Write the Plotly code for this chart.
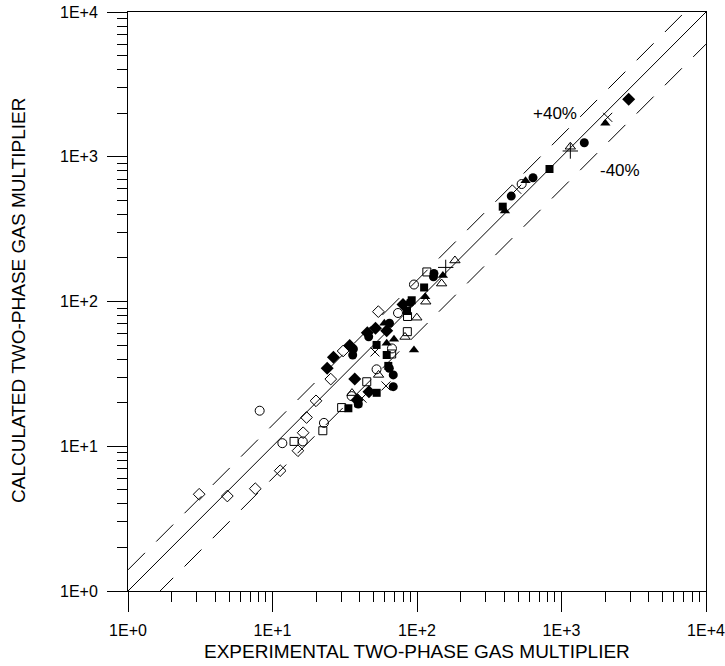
import plotly.graph_objects as go

# ---- data (experimental, calculated) ----
open_diamond_x = [3.11, 4.87, 7.60, 11.3, 15.0, 16.3, 17.2, 20.0, 25.3, 30.8, 54.0]
open_diamond_y = [4.66, 4.53, 5.09, 6.78, 9.31, 12.4, 15.8, 20.6, 29.1, 45.5, 85.1]

filled_diamond_x = [23.9, 26.4, 34.2, 37.1, 46.5, 51.6, 45.3, 61.7, 80.0, 38.5, 2917]
filled_diamond_y = [34.6, 41.2, 49.7, 29.1, 23.8, 65.3, 60.9, 62.9, 95.3, 20.9, 2494]

filled_circle_x = [35.9, 36.3, 46.3, 64.5, 89.9, 131, 130, 68.5, 68.5, 64.3, 39.2, 449, 635, 1438]
filled_circle_y = [42.7, 47.0, 57.1, 70.7, 98.4, 156, 148, 31.1, 25.8, 34.6, 19.6, 535, 716, 1250]

open_circle_x = [8.15, 11.7, 16.2, 22.7, 35.3, 52.5, 67.1, 73.9, 95.3, 530]
open_circle_y = [17.6, 10.5, 10.8, 14.5, 22.2, 34.0, 47.4, 83.3, 131, 648]

filled_square_x = [52.5, 61.7, 63.3, 52.6, 33.5, 39.2, 85.3, 112, 91.9, 392, 826]
filled_square_y = [50.1, 42.7, 35.9, 23.4, 18.3, 19.8, 86.0, 125, 102, 452, 823]

open_square_x = [14.1, 22.3, 30.1, 44.9, 66.8, 85.7, 86.0, 117]
open_square_y = [10.8, 12.8, 18.5, 27.9, 43.4, 61.9, 78.8, 160]

filled_triangle_x = [59.4, 61.7, 69.3, 95.3, 151, 114, 406, 564, 2010]
filled_triangle_y = [70.7, 51.4, 54.8, 46.2, 151, 108, 422, 683, 1702]

open_triangle_x = [35.5, 54.2, 82.6, 99.7, 115, 148, 183, 1151]
open_triangle_y = [23.3, 31.1, 56.9, 77.3, 99.7, 133, 192, 1173]

x_mark_x = [51.2, 61.0, 41.6, 490, 2089]
x_mark_y = [44.8, 26.1, 21.5, 596, 1872]

plus_x = [158, 1151]
plus_y = [172, 1096]

# reference lines
line_x = [1, 10000]
upper_factor = 1.4
lower_factor = 0.6

major_ticks = [1, 10, 100, 1000, 10000]
major_text = ["1E+0", "1E+1", "1E+2", "1E+3", "1E+4"]
minor_ticks = [m * d for d in [1, 10, 100, 1000] for m in range(2, 10)]

FONT = "Liberation Sans, Arial, sans-serif"

fig = go.Figure()

# reference lines
fig.add_trace(go.Scatter(x=line_x, y=line_x, mode="lines",
                         line=dict(color="black", width=1), hoverinfo="skip"))
fig.add_trace(go.Scatter(x=line_x, y=[v * upper_factor for v in line_x], mode="lines",
                         line=dict(color="black", width=1, dash="24px,16px"), hoverinfo="skip"))
fig.add_trace(go.Scatter(x=line_x, y=[v * lower_factor for v in line_x], mode="lines",
                         line=dict(color="black", width=1, dash="24px,16px"), hoverinfo="skip"))

def pts(x, y, symbol, size, filled):
    if filled:
        marker = dict(symbol=symbol, size=size, color="black", line=dict(width=0))
    else:
        marker = dict(symbol=symbol, size=size, color="black", line=dict(width=1, color="black"))
    fig.add_trace(go.Scatter(x=x, y=y, mode="markers", marker=marker, cliponaxis=False))

pts(open_diamond_x, open_diamond_y, "diamond-open", 9, False)
pts(filled_diamond_x, filled_diamond_y, "diamond", 10, True)
pts(filled_circle_x, filled_circle_y, "circle", 9, True)
pts(open_circle_x, open_circle_y, "circle-open", 9, False)
pts(filled_square_x, filled_square_y, "square", 8, True)
pts(open_square_x, open_square_y, "square-open", 8, False)
pts(filled_triangle_x, filled_triangle_y, "triangle-up", 9, True)
pts(open_triangle_x, open_triangle_y, "triangle-up-open", 9, False)
pts(x_mark_x, x_mark_y, "x-thin-open", 9, False)
pts(plus_x, plus_y, "cross-thin-open", 11, False)

axis_common = dict(
    type="log", range=[0, 4], showgrid=False, zeroline=False, automargin=False,
    showline=True, linecolor="black", linewidth=1, mirror=True,
    tickvals=major_ticks, ticktext=major_text, ticklabeloverflow="allow",
    ticks="outside", ticklen=20, tickwidth=1, tickcolor="black",
    tickfont=dict(family=FONT, size=16, color="black"),
    minor=dict(tickvals=minor_ticks, ticks="outside", ticklen=10,
               tickwidth=1, tickcolor="black", showgrid=False),
)

fig.update_xaxes(**axis_common, ticklabelstandoff=5)
fig.update_yaxes(**axis_common, ticklabelstandoff=6)

# target screen plot box is x 128..706, y 12..591 (page body margin removed)
W, H = 725, 666
L, R, T, B = 128, 19, 12, 75
pw, ph = W - L - R, H - T - B

def px(xs):
    return (xs - L) / pw

def py(ys):
    return (H - B - ys) / ph

def label(xs, ys, text, size, angle=0):
    fig.add_annotation(x=px(xs), y=py(ys), xref="paper", yref="paper", showarrow=False,
                       xanchor="center", yanchor="middle", textangle=angle, text=text,
                       font=dict(family=FONT, size=size, color="black"))

label(417, 651, "EXPERIMENTAL TWO-PHASE GAS MULTIPLIER", 19)
label(18, 301, "CALCULATED TWO-PHASE GAS MULTIPLIER", 19, -90)
label(555, 113, "+40%", 17)
label(620, 170, "-40%", 17)

fig.update_layout(
    width=W, height=H,
    margin=dict(l=L, r=R, t=T, b=B),
    paper_bgcolor="white", plot_bgcolor="white",
    showlegend=False, hovermode=False,
)

fig.write_html("out.html", config={"displayModeBar": False, "staticPlot": True},
               post_script="document.body.style.margin='0';document.body.style.overflow='hidden';")
